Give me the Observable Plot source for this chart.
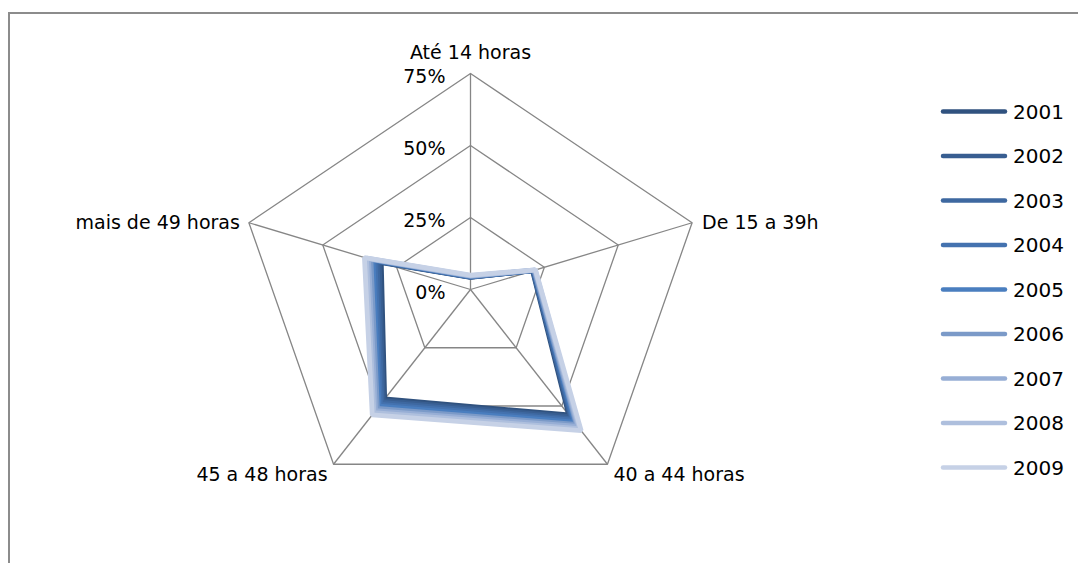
<!DOCTYPE html>
<html>
<head>
<meta charset="utf-8">
<script src="https://cdn.jsdelivr.net/npm/d3@7"></script>
<script src="https://cdn.jsdelivr.net/npm/@observablehq/plot@0.6"></script>
<style>
  html, body { margin: 0; padding: 0; background: #fff; }
  #wrap { position: relative; width: 1078px; height: 563px; overflow: hidden; font-family: "DejaVu Sans", sans-serif; }
  #frame { position: absolute; left: 8px; top: 12px; width: 2000px; height: 2000px; border-top: 2px solid #8c8c8c; border-left: 2px solid #8c8c8c; box-sizing: border-box; }
  #chart { position: absolute; left: 0; top: 0; }
  #legend { position: absolute; left: 0; top: 0; }
</style>
</head>
<body>
<div id="wrap">
  <div id="frame"></div>
  <div id="chart"></div>
  <svg id="legend" width="1078" height="563"></svg>
</div>
<script>
// ---- data ----
const categories = ["Até 14 horas", "De 15 a 39h", "40 a 44 horas", "45 a 48 horas", "mais de 49 horas"];
const years = ["2001", "2002", "2003", "2004", "2005", "2006", "2007", "2008", "2009"];
const s2001 = [4.2, 21.0, 53.8, 47.0, 30.2];
const s2002 = [4.3, 21.2, 54.6, 47.7, 30.9];
const s2003 = [4.3, 21.1, 55.4, 48.5, 31.6];
const s2004 = [4.4, 21.4, 56.1, 49.3, 32.3];
const s2005 = [4.5, 21.6, 56.9, 50.1, 33.0];
const s2006 = [4.6, 21.5, 57.9, 51.0, 33.7];
const s2007 = [4.7, 21.8, 58.8, 52.0, 34.5];
const s2008 = [4.8, 21.9, 59.7, 52.9, 35.2];
const s2009 = [5.0, 22.0, 60.6, 53.8, 35.9];
const seriesValues = [s2001, s2002, s2003, s2004, s2005, s2006, s2007, s2008, s2009];
const colors = ["#30527f", "#385e91", "#3e68a0", "#4472af", "#4a7ebf", "#7b9ac8", "#97aed5", "#aebfdd", "#c6d1e6"];
const ringValues = [25, 50, 75];
const tickValues = [0, 25, 50, 75];
const tickLabels = ["0%", "25%", "50%", "75%"];
const maxValue = 75;

// ---- geometry helpers ----
const n = categories.length;
const ux = i => Math.sin(2 * Math.PI * i / n);
const uy = i => Math.cos(2 * Math.PI * i / n);

const rings = ringValues.flatMap(r => categories.map((c, i) => ({ring: r, x: r / maxValue * ux(i), y: r / maxValue * uy(i)})));
const spokes = categories.map((c, i) => ({x: ux(i), y: uy(i)}));
const series = years.flatMap((yr, k) => categories.map((c, i) => ({
  year: yr, cat: c,
  x: seriesValues[k][i] / maxValue * ux(i),
  y: seriesValues[k][i] / maxValue * uy(i)
})));
const ticks = tickValues.map((t, j) => ({label: tickLabels[j], x: 0, y: t / maxValue}));

const labelStyle = [
  {anchor: "middle", dx: 0, dy: -21},
  {anchor: "start", dx: 10, dy: 0},
  {anchor: "start", dx: 6, dy: 11},
  {anchor: "end", dx: -6, dy: 11},
  {anchor: "end", dx: -9, dy: 0}
];
const catMarks = categories.map((c, i) => Plot.text([{label: c, x: ux(i), y: uy(i)}], {
  x: "x", y: "y", text: "label", textAnchor: labelStyle[i].anchor,
  dx: labelStyle[i].dx, dy: labelStyle[i].dy, fill: "#000", fontSize: 19
}));

const chart = Plot.plot({
  width: 1078,
  height: 563,
  margin: 0,
  style: {fontFamily: "DejaVu Sans, sans-serif", background: "transparent", overflow: "visible"},
  x: {domain: [-1, 1], range: [237, 703], axis: null},
  y: {domain: [-1, 1], range: [505, 73], axis: null},
  color: {domain: years, range: colors},
  marks: [
    Plot.line(rings, {x: "x", y: "y", z: "ring", curve: "linear-closed", stroke: "#868686", strokeWidth: 1.3}),
    Plot.link(spokes, {x1: () => 0, y1: () => 0, x2: "x", y2: "y", stroke: "#868686", strokeWidth: 1.3}),
    Plot.line(series, {x: "x", y: "y", z: "year", stroke: "year", curve: "linear-closed", strokeWidth: 4.8, strokeLinejoin: "miter"}),
    Plot.text(ticks, {x: "x", y: "y", text: "label", textAnchor: "end", dx: -25, dy: 3, fill: "#000", fontSize: 19}),
    ...catMarks
  ]
});
document.getElementById("chart").appendChild(chart);

// ---- legend ----
const leg = d3.select("#legend");
const rows = leg.selectAll("g").data(years).join("g")
  .attr("transform", (d, i) => `translate(0, ${111.5 + i * 44.5})`);
rows.append("line").attr("x1", 943).attr("x2", 1005).attr("y1", 0).attr("y2", 0)
  .attr("stroke", (d, i) => colors[i]).attr("stroke-width", 4.5).attr("stroke-linecap", "round");
rows.append("text").attr("x", 1013).attr("y", 0).attr("dy", "0.35em")
  .attr("font-family", "DejaVu Sans, sans-serif").attr("font-size", 20).attr("fill", "#000")
  .text(d => d);
</script>
</body>
</html>
